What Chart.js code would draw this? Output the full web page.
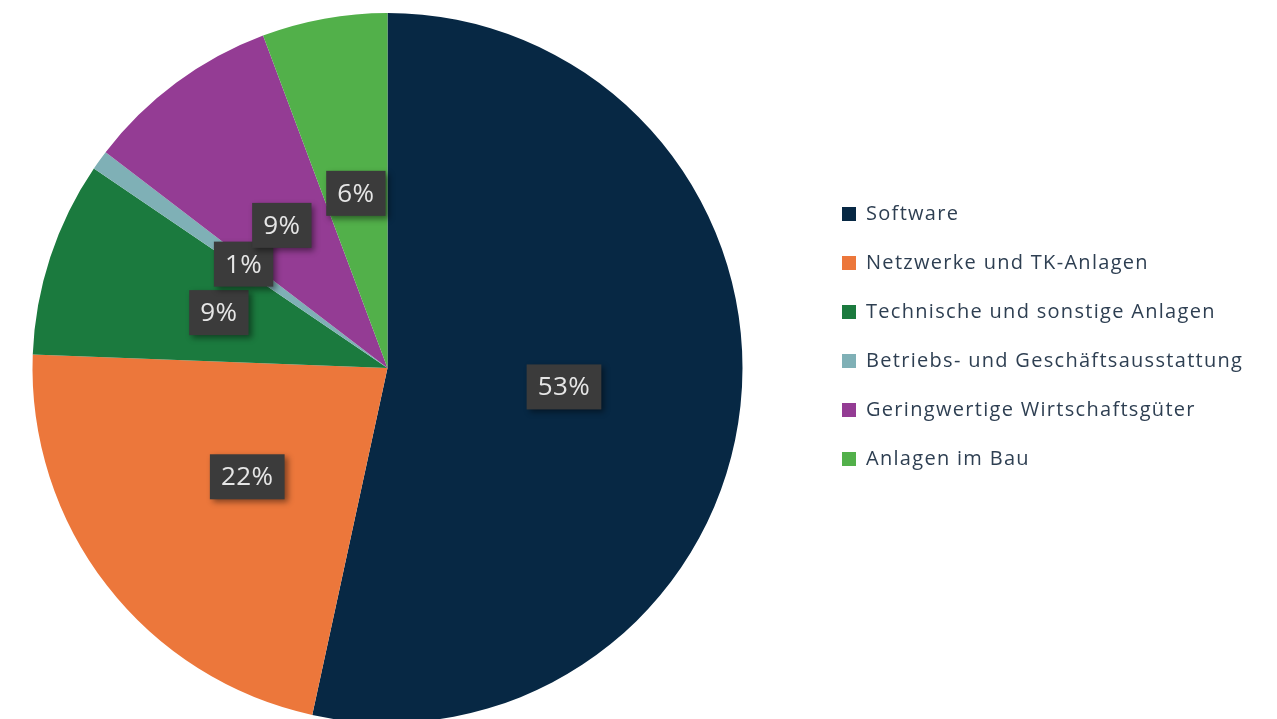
<!DOCTYPE html>
<html lang="de">
<head>
<meta charset="utf-8">
<title>Anlagevermögen</title>
<script src="https://cdn.jsdelivr.net/npm/chart.js@4.4.1/dist/chart.umd.min.js"></script>
<style>
  html, body { margin: 0; padding: 0; background: #fff; overflow: hidden; }
  #wrap { position: relative; width: 1277px; height: 736px; }
</style>
</head>
<body>
<div id="wrap"><canvas id="chart-assets"></canvas></div>
<script>
// slices, clockwise from 12 o'clock
const categories = [
  'Software',
  'Netzwerke und TK-Anlagen',
  'Technische und sonstige Anlagen',
  'Betriebs- und Geschäftsausstattung',
  'Geringwertige Wirtschaftsgüter',
  'Anlagen im Bau'
];
const shares = [53.4, 22.2, 8.9, 0.9, 8.9, 5.7];
const sliceColors = ['#072844', '#ec773b', '#1b7a3e', '#7fb0b6', '#943c94', '#52b04a'];

const FONT = "'Open Sans', 'DejaVu Sans', sans-serif";

// dark percentage boxes at the middle of each slice
const pctBoxes = {
  id: 'pctBoxes',
  afterDatasetsDraw(chart) {
    const ctx = chart.ctx;
    const meta = chart.getDatasetMeta(0);
    const total = shares.reduce((a, b) => a + b, 0);
    ctx.save();
    ctx.letterSpacing = '0.5px';
    ctx.font = `26px ${FONT}`;
    ctx.textAlign = 'center';
    ctx.textBaseline = 'middle';
    meta.data.forEach((arc, i) => {
      const { x, y } = arc.tooltipPosition();
      const txt = Math.round(shares[i] / total * 100) + '%';
      const w = ctx.measureText(txt).width + 22;
      const h = 45;
      ctx.shadowColor = 'rgba(0,0,0,0.45)';
      ctx.shadowBlur = 6;
      ctx.shadowOffsetX = 3;
      ctx.shadowOffsetY = 3;
      ctx.fillStyle = '#3b3b3b';
      ctx.fillRect(x - w / 2, y - h / 2, w, h);
      ctx.shadowColor = 'transparent';
      ctx.fillStyle = '#e6e6e6';
      ctx.fillText(txt, x, y + 1);
    });
    ctx.restore();
  }
};

// legend sits free of the chart area, pinned to the right of the pie
const legendPlace = {
  id: 'legendPlace',
  afterLayout(chart) {
    const lg = chart.legend;
    if (!lg) return;
    lg.left = 813; lg.right = 1277;
    lg.top = 175; lg.bottom = 736;
  },
  beforeDraw(chart) {
    // the legend font in the original runs a little wide
    chart.ctx.letterSpacing = '1.3px';
  }
};

new Chart(document.getElementById('chart-assets'), {
  type: 'pie',
  data: {
    labels: categories,
    datasets: [{ data: shares, backgroundColor: sliceColors, borderWidth: 0 }]
  },
  options: {
    responsive: true,
    maintainAspectRatio: false,
    animation: false,
    layout: { padding: { left: 32, right: 534, top: 13, bottom: 13 } },
    plugins: {
      tooltip: { enabled: false },
      legend: {
        position: 'chartArea',
        align: 'start',
        labels: {
          boxWidth: 14, boxHeight: 14, padding: 29,
          color: '#2e3f52',
          font: { family: FONT, size: 20 }
        }
      }
    }
  },
  plugins: [pctBoxes, legendPlace]
});
</script>
</body>
</html>
